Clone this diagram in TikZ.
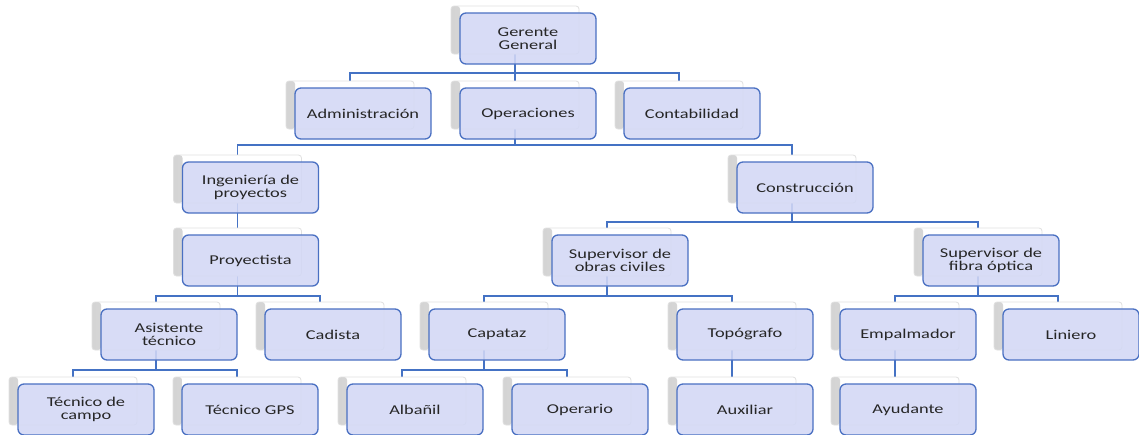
\documentclass[tikz,border=0pt]{standalone}
\usepackage{fontspec}
\setmainfont{Carlito}[FakeStretch=1.36]
\usetikzlibrary{calc}
\pgfdeclarelayer{bg}
\pgfsetlayers{bg,main}
\definecolor{boxfill}{HTML}{D3D8F5}
\definecolor{boxline}{HTML}{4A70C2}
\definecolor{connc}{HTML}{4472C4}
\definecolor{txt}{HTML}{262626}
\tikzset{
 backcard/.style={draw=black!12, fill=white, rounded corners=3pt, minimum width=128pt, minimum height=48pt, inner sep=0pt, line width=0.8pt,
   path picture={\fill[left color=black!17,right color=black!5] (path picture bounding box.south west) rectangle ([xshift=9pt]path picture bounding box.north west);}},
 frontbox/.style={draw=boxline, fill=boxfill, fill opacity=0.88, text opacity=1, rounded corners=6pt, minimum width=136pt, minimum height=51pt, inner sep=0pt, line width=1.3pt, text=txt, align=center, font=\fontsize{13.5}{13.5}\selectfont},
 orgline/.style={draw=connc, line width=1.8pt}
}
\newcommand\orgbox[4]{%
 \node[backcard] (#1) at (#2+55, #3+17) {};
 \node[frontbox] (#1-f) at (#2+68, #3+25.5) {#4};
}
\begin{document}
\begin{tikzpicture}[x=1pt,y=-1pt]
\begin{pgfonlayer}{bg}
\fill[white] (0,0) rectangle (1139,434);
\end{pgfonlayer}
\useasboundingbox (0,0) rectangle (1139,434);
% level 1
\orgbox{ger}{460}{13}{Gerente\\General}
% level 2
\orgbox{adm}{295}{88}{Administración}
\orgbox{ope}{460}{88}{Operaciones}
\orgbox{con}{624}{88}{Contabilidad}
% level 3
\orgbox{ing}{182.5}{162}{Ingeniería de\\proyectos}
\orgbox{cst}{737}{162}{Construcción}
% level 4
\orgbox{pry}{182.5}{235}{Proyectista}
\orgbox{soc}{552}{235}{Supervisor de\\obras civiles}
\orgbox{sfo}{923}{235}{Supervisor de\\fibra óptica}
% level 5
\orgbox{ast}{101}{309}{Asistente\\técnico}
\orgbox{cad}{265}{309}{Cadista}
\orgbox{cap}{429}{309}{Capataz}
\orgbox{top}{677}{309}{Topógrafo}
\orgbox{emp}{840}{309}{Empalmador}
\orgbox{lin}{1003}{309}{Liniero}
% level 6
\orgbox{tcc}{18}{384}{Técnico de\\campo}
\orgbox{tgp}{182}{384}{Técnico GPS}
\orgbox{alb}{347}{384}{Albañil}
\orgbox{opr}{512}{384}{Operario}
\orgbox{aux}{677}{384}{Auxiliar}
\orgbox{ayu}{840}{384}{Ayudante}
\begin{pgfonlayer}{bg}
\coordinate (bA) at (0,73);
\coordinate (bB) at (0,145);
\coordinate (bC) at (0,222);
\coordinate (bD) at (0,296);
\coordinate (bE) at (0,370);
\foreach \c in {adm,ope,con}
  \draw[orgline] (ger.south) -- (ger.south |- bA) -| (\c.north);
\foreach \c in {ing,cst}
  \draw[orgline] (ope.south) -- (ope.south |- bB) -| (\c.north);
\draw[orgline] (ing.south) -- (pry.north);
\foreach \c in {soc,sfo}
  \draw[orgline] (cst.south) -- (cst.south |- bC) -| (\c.north);
\foreach \c in {ast,cad}
  \draw[orgline] (pry.south) -- (pry.south |- bD) -| (\c.north);
\foreach \c in {cap,top}
  \draw[orgline] (soc.south) -- (soc.south |- bD) -| (\c.north);
\foreach \c in {emp,lin}
  \draw[orgline] (sfo.south) -- (sfo.south |- bD) -| (\c.north);
\foreach \c in {tcc,tgp}
  \draw[orgline] (ast.south) -- (ast.south |- bE) -| (\c.north);
\foreach \c in {alb,opr}
  \draw[orgline] (cap.south) -- (cap.south |- bE) -| (\c.north);
\draw[orgline] (top.south) -- (aux.north);
\draw[orgline] (emp.south) -- (ayu.north);
\end{pgfonlayer}
\end{tikzpicture}
\end{document}
